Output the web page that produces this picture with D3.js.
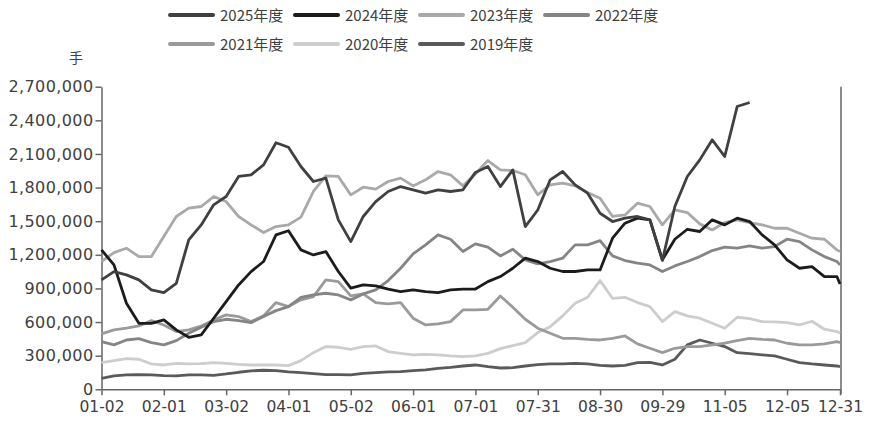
<!DOCTYPE html>
<html>
<head>
<meta charset="utf-8">
<script src="https://cdn.jsdelivr.net/npm/d3@7"></script>
<style>
  body { margin: 0; background: #fff; }
  svg { display: block; }
</style>
</head>
<body>
<script>
// trading-day index of each sample (every 4th trading day, plus the last day)
const dayIdx = d3.range(0, 237, 4).concat([237]);

// x tick positions (trading-day index) and their labels
const tickIdx = [0, 20, 40, 60, 80, 100, 120, 140, 160, 180, 200, 220, 237];
const tickLabels = ['01-02', '02-01', '03-02', '04-01', '05-02', '06-01', '07-01',
                    '07-31', '08-30', '09-29', '11-05', '12-05', '12-31'];

const yTicks = [0, 300000, 600000, 900000, 1200000, 1500000, 1800000, 2100000, 2400000, 2700000];

// values in thousands of 手
const y2025 = [976, 1050, 1021, 976, 887, 863, 946, 1333, 1467, 1646, 1720, 1899, 1914, 2003, 2200,
  2160, 1988, 1854, 1884, 1512, 1318, 1542, 1675, 1765, 1809, 1780, 1750, 1780, 1765, 1780,
  1935, 1988, 1809, 1958, 1452, 1600, 1869, 1943, 1824, 1750, 1571, 1497, 1527, 1542, 1512,
  1150, 1631, 1899, 2047, 2226, 2077, 2523, 2559];
const y2024 = [1244, 1110, 768, 589, 589, 619, 530, 464, 485, 634, 783, 931, 1050, 1140, 1378,
  1415, 1244, 1199, 1229, 1051, 902, 931, 923, 893, 872, 887, 872, 863, 887, 893,
  895, 961, 1006, 1080, 1170, 1140, 1080, 1051, 1051, 1065, 1065, 1348, 1482, 1527, 1512,
  1155, 1339, 1428, 1408, 1512, 1467, 1527, 1497, 1378, 1289, 1155, 1080, 1095, 1006, 1006, 940];
const y2023 = [1140, 1220, 1259, 1184, 1184, 1363, 1542, 1616, 1631, 1720, 1675, 1542, 1467, 1399, 1452,
  1467, 1536, 1765, 1905, 1899, 1735, 1803, 1786, 1854, 1884, 1815, 1869, 1943, 1914, 1815,
  1921, 2041, 1958, 1952, 1914, 1735, 1824, 1839, 1815, 1756, 1705, 1542, 1556, 1661, 1631,
  1467, 1601, 1577, 1476, 1422, 1488, 1512, 1488, 1467, 1437, 1437, 1393, 1348, 1339, 1244, 1229];
const y2022 = [426, 396, 440, 452, 417, 396, 434, 500, 554, 604, 625, 613, 595, 649, 702,
  738, 821, 842, 857, 842, 798, 851, 887, 970, 1080, 1208, 1289, 1378, 1339, 1229,
  1298, 1268, 1190, 1250, 1155, 1119, 1140, 1170, 1289, 1289, 1327, 1190, 1149, 1125, 1110,
  1051, 1101, 1140, 1184, 1238, 1268, 1259, 1280, 1259, 1274, 1339, 1318, 1244, 1184, 1140, 1110];
const y2021 = [494, 530, 545, 565, 613, 574, 515, 530, 565, 619, 664, 649, 604, 655, 774,
  738, 798, 827, 976, 961, 833, 851, 774, 762, 774, 634, 574, 583, 604, 708,
  708, 714, 833, 732, 625, 545, 500, 455, 455, 446, 440, 455, 476, 405, 366,
  327, 366, 381, 381, 396, 411, 434, 455, 446, 440, 411, 396, 396, 405, 426, 417];
const y2020 = [238, 256, 274, 268, 226, 217, 232, 226, 229, 238, 232, 223, 217, 217, 217,
  211, 256, 327, 381, 375, 357, 381, 387, 336, 321, 307, 312, 307, 298, 292,
  298, 321, 363, 390, 417, 506, 559, 655, 768, 821, 970, 812, 821, 774, 738,
  604, 693, 655, 634, 589, 545, 643, 631, 604, 601, 595, 574, 607, 536, 515, 500];
const y2019 = [98, 119, 128, 131, 128, 122, 119, 128, 128, 125, 137, 152, 164, 170, 167,
  155, 149, 140, 131, 131, 128, 143, 149, 155, 158, 167, 173, 187, 196, 208,
  217, 202, 190, 193, 208, 220, 226, 226, 232, 226, 214, 208, 214, 238, 241,
  217, 268, 396, 440, 411, 381, 327, 318, 307, 298, 268, 238, 226, 217, 208, 202];

const seriesNames = ['2025年度', '2024年度', '2023年度', '2022年度', '2021年度', '2020年度', '2019年度'];
const seriesValues = [y2025, y2024, y2023, y2022, y2021, y2020, y2019];
const seriesColors = ['#404040', '#1c1c1c', '#a9a9a9', '#858585', '#9a9a9a', '#cdcdcd', '#5a5a5a'];

const width = 869, height = 423;
const plotLeft = 101.5, plotRight = 840, plotTop = 86.7, plotBottom = 389.3;

const svg = d3.select('body').append('svg')
    .attr('width', width)
    .attr('height', height);

const x = d3.scaleLinear().domain([0, 237]).range([plotLeft, plotRight]);
const y = d3.scaleLinear().domain([0, 2700000]).range([plotBottom, plotTop]);

const axisColor = '#666';
const textColor = '#404040';

// y axis
const yAxis = svg.append('g')
    .attr('transform', `translate(${plotLeft},0)`)
    .call(d3.axisLeft(y).tickValues(yTicks).tickSize(6).tickSizeOuter(0).tickPadding(2)
        .tickFormat(d3.format(',')));
yAxis.select('.domain').attr('stroke', axisColor).attr('stroke-width', 1.5);
yAxis.selectAll('.tick line').attr('stroke', axisColor).attr('stroke-width', 1.5);
yAxis.selectAll('.tick text')
    .attr('fill', textColor)
    .style('font-family', 'DejaVu Sans, sans-serif')
    .style('font-size', '16px')
    .style('letter-spacing', '0.4px');

// x axis
const xAxis = svg.append('g')
    .attr('transform', `translate(0,${plotBottom})`)
    .call(d3.axisBottom(x).tickValues(tickIdx).tickSize(6).tickSizeOuter(0).tickPadding(6)
        .tickFormat((d, i) => tickLabels[i]));
xAxis.select('.domain').attr('stroke', axisColor).attr('stroke-width', 1.5);
xAxis.selectAll('.tick line').attr('stroke', axisColor).attr('stroke-width', 1.5);
xAxis.selectAll('.tick text')
    .attr('fill', textColor)
    .style('font-family', 'DejaVu Sans, sans-serif')
    .style('font-size', '15.5px');

// right frame line
svg.append('line')
    .attr('x1', plotRight + 1).attr('x2', plotRight + 1)
    .attr('y1', plotTop).attr('y2', plotBottom + 5)
    .attr('stroke', axisColor)
    .attr('stroke-width', 1.5);

// unit label
svg.append('text')
    .attr('x', 76).attr('y', 63)
    .attr('text-anchor', 'middle')
    .attr('fill', textColor)
    .style('font-family', 'Noto Sans CJK SC, sans-serif')
    .style('font-size', '14px')
    .text('手');

// lines, oldest first so the newer years sit on top
const line = d3.line()
    .x(d => x(d.i))
    .y(d => y(d.v * 1000));

for (let s = seriesValues.length - 1; s >= 0; s--) {
    const pts = seriesValues[s].map((v, k) => ({ i: dayIdx[k], v: v }));
    svg.append('path')
        .datum(pts)
        .attr('fill', 'none')
        .attr('stroke', seriesColors[s])
        .attr('stroke-width', 2.8)
        .attr('stroke-linejoin', 'round')
        .attr('d', line);
}

// legend
const legend = svg.append('g');
seriesNames.forEach((name, s) => {
    const col = s < 4 ? s : s - 4;
    const row = s < 4 ? 0 : 1;
    const lx = 170 + col * 125;
    const ly = 15 + row * 29;
    legend.append('line')
        .attr('x1', lx).attr('x2', lx + 43)
        .attr('y1', ly).attr('y2', ly)
        .attr('stroke', seriesColors[s])
        .attr('stroke-width', 4)
        .attr('stroke-linecap', 'round');
    legend.append('text')
        .attr('x', lx + 50).attr('y', ly + 5.5)
        .attr('fill', textColor)
        .style('font-family', 'Noto Sans CJK SC, sans-serif')
        .style('font-size', '15px')
        .text(name);
});
</script>
</body>
</html>
